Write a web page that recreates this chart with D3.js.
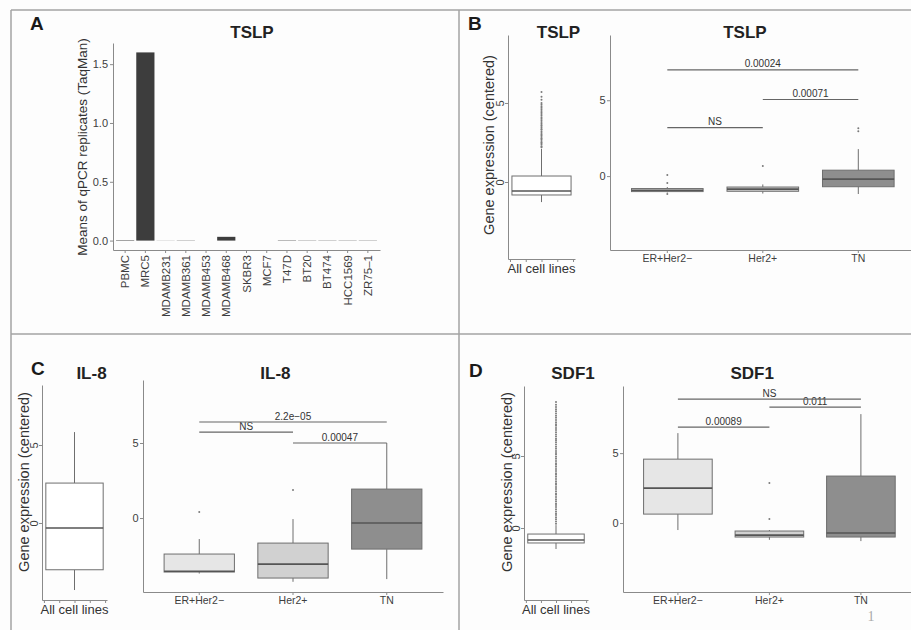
<!doctype html>
<meta charset="utf-8">
<style>
 body { margin: 0; background: #fdfdfd; }
 svg text { font-family: "Liberation Sans", Arial, sans-serif; }
 .tick text { fill: #3d3d3d; font-size: 11px; }
 .axis path, .axis line { stroke: #8a8a8a; }
 .title { font-weight: bold; font-size: 17px; fill: #222; }
 .letter { font-weight: bold; font-size: 19px; fill: #1a1a1a; }
 .ylab { font-size: 14.5px; fill: #333; }
 .sig { font-size: 10px; fill: #333; }
</style>
<svg width="911" height="630"></svg>
<script src="https://cdn.jsdelivr.net/npm/d3@7"></script>
<script>
 // Panel A: qPCR means
 var cellLines = ["PBMC", "MRC5", "MDAMB231", "MDAMB361", "MDAMB453", "MDAMB468",
                  "SKBR3", "MCF7", "T47D", "BT20", "BT474", "HCC1569", "ZR75\u20131"];
 var qpcrMeans = [0.004, 1.6, 0.001, 0.002, 0, 0.032, 0, 0, 0.003, 0.002, 0.002, 0.002, 0.002];

 // Boxplot stats: [lower whisker, q1, median, q3, upper whisker]
 var subtypes = ["ER+Her2\u2212", "Her2+", "TN"];
 var subtypeFill = ["#e6e6e6", "#d1d1d1", "#8e8e8e"];

 var tslpAll = [-1.27, -0.82, -0.57, 0.38, 2.1];
 var tslpAllOut = [2.2, 2.25, 2.35, 2.45, 2.5, 2.6, 2.7, 2.75, 2.85, 2.95, 3.0, 3.1, 3.2, 3.3,
                   3.35, 3.45, 3.55, 3.6, 3.7, 3.8, 3.9, 4.0, 4.1, 4.2, 4.3, 4.4, 4.5, 4.6,
                   4.7, 4.8, 4.9, 5.0, 5.2, 5.4, 5.7];
 var tslpSub = [[-1.08, -1.02, -0.93, -0.82, -0.72],
                [-1.15, -1.0, -0.86, -0.72, -0.55],
                [-1.18, -0.7, -0.2, 0.39, 1.78]];
 var tslpSubOut = [[0.07, -0.46, -1.18], [0.66], [2.96, 3.16]];
 var tslpSig = [[0, 1, 3.2, "NS"], [1, 2, 5.05, "0.00071"], [0, 2, 7.0, "0.00024"]];

 var il8All = [-4.3, -3.0, -0.32, 2.56, 5.83];
 var il8AllOut = [];
 var il8Sub = [[-3.7, -3.6, -3.55, -2.4, -1.4],
               [-4.25, -4.0, -3.07, -1.67, -0.07],
               [-4.07, -2.07, -0.33, 1.93, 5.0]];
 var il8SubOut = [[0.4], [1.87], []];
 var il8Sig = [[1, 2, 5.0, "0.00047"], [0, 1, 5.73, "NS"], [0, 2, 6.4, "2.2e\u221205"]];

 var sdf1All = [-1.46, -1.04, -0.83, -0.42, 0.2];
 var sdf1AllOut = [0.3, 0.45, 0.6, 0.75, 0.9, 1.0, 1.15, 1.3, 1.45, 1.6, 1.7, 1.85, 2.0, 2.15,
                   2.3, 2.4, 2.55, 2.7, 2.85, 3.0, 3.1, 3.25, 3.4, 3.55, 3.7, 3.8, 3.95, 4.1,
                   4.25, 4.4, 4.5, 4.65, 4.8, 4.95, 5.1, 5.2, 5.35, 5.5, 5.65, 5.8, 5.95, 6.1,
                   6.2, 6.35, 6.5, 6.65, 6.8, 6.95, 7.1, 7.2, 7.35, 7.5, 7.65, 7.8, 7.95, 8.1,
                   8.25, 8.4, 8.55, 8.75];
 var sdf1Sub = [[-0.5, 0.64, 2.5, 4.57, 6.43],
                [-1.2, -1.0, -0.86, -0.57, -0.5],
                [-1.29, -1.0, -0.71, 3.36, 7.79]];
 var sdf1SubOut = [[], [2.86, 0.29], []];
 var sdf1Sig = [[0, 1, 6.86, "0.00089"], [1, 2, 8.29, "0.011"], [0, 2, 8.86, "NS"]];

 var svg = d3.select("svg");

 // frame of the figure
 var frame = [[11, 10, 911, 10], [11, 10, 11, 630], [459, 10, 459, 630], [11, 334, 911, 334]];
 svg.selectAll(".frame").data(frame).enter().append("line")
    .attr("x1", d => d[0]).attr("y1", d => d[1]).attr("x2", d => d[2]).attr("y2", d => d[3])
    .attr("stroke", "#a3a3a3").attr("stroke-width", 1.5);

 function text(x, y, s, cls, anchor) {
   return svg.append("text").attr("x", x).attr("y", y).attr("class", cls)
             .attr("text-anchor", anchor || "middle").text(s);
 }
 function ylab(x, y, s, size) {
   svg.append("text").attr("class", "ylab").attr("text-anchor", "middle")
      .attr("transform", "translate(" + x + "," + y + ") rotate(-90)")
      .style("font-size", size ? size + "px" : null).text(s);
 }

 // ---- A ----
 var xA = d3.scaleBand().domain(cellLines).range([113, 380]).paddingInner(0.1).paddingOuter(0.15);
 var yA = d3.scaleLinear().domain([-0.08, 1.68]).range([250, 43]);
 svg.append("g").attr("class", "axis").attr("transform", "translate(113,0)")
    .call(d3.axisLeft(yA).tickValues([0, 0.5, 1, 1.5]).tickFormat(d3.format(".1f"))
            .tickSize(3).tickSizeOuter(0).tickPadding(2));
 var gxA = svg.append("g").attr("class", "axis").attr("transform", "translate(0,250)")
    .call(d3.axisBottom(xA).tickSize(3).tickSizeOuter(0));
 gxA.selectAll(".tick text").attr("text-anchor", "end").style("font-size", "11.5px")
    .attr("transform", "translate(4,5) rotate(-90)").attr("y", 0).attr("x", 0).attr("dy", 0);
 svg.selectAll(".bar").data(cellLines).enter().append("rect")
    .attr("x", d => xA(d)).attr("width", xA.bandwidth())
    .attr("y", (d, i) => yA(qpcrMeans[i])).attr("height", (d, i) => yA(0) - yA(qpcrMeans[i]))
    .attr("fill", "#3d3d3d");
 text(30, 30, "A", "letter", "start");
 text(252, 38, "TSLP", "title");
 ylab(87, 147, "Means of qPCR replicates (TaqMan)", 13.5);

 // ---- generic boxplot drawing ----
 function box(cx, half, y, st, out, fill) {
   var g = svg.append("g");
   g.append("line").attr("x1", cx).attr("x2", cx).attr("y1", y(st[0])).attr("y2", y(st[1]))
    .attr("stroke", "#6e6e6e");
   g.append("line").attr("x1", cx).attr("x2", cx).attr("y1", y(st[3])).attr("y2", y(st[4]))
    .attr("stroke", "#6e6e6e");
   g.append("rect").attr("x", cx - half).attr("width", 2 * half)
    .attr("y", y(st[3])).attr("height", y(st[1]) - y(st[3]))
    .attr("fill", fill).attr("stroke", "#6e6e6e").attr("stroke-width", 1);
   g.append("line").attr("x1", cx - half).attr("x2", cx + half)
    .attr("y1", y(st[2])).attr("y2", y(st[2])).attr("stroke", "#555").attr("stroke-width", 1.6);
   g.selectAll("circle").data(out).enter().append("circle")
    .attr("cx", cx).attr("cy", d => y(d)).attr("r", 1).attr("fill", "#7a7a7a");
 }

 function allPlot(x0, x1, yr, dom, st, out, title, ty) {
   var x = d3.scaleLinear().domain([-0.425, 0.425]).range([x0, x1]);
   var y = d3.scaleLinear().domain(dom).range(yr);
   var gy = svg.append("g").attr("class", "axis").attr("transform", "translate(" + x0 + ",0)")
      .call(d3.axisLeft(y).tickValues([0, 5]).tickSize(3).tickSizeOuter(0));
   gy.selectAll(".tick text").attr("text-anchor", "middle").attr("x", 0).attr("dy", 0)
      .attr("transform", "translate(-4,0) rotate(-90)");
   svg.append("g").attr("class", "axis").attr("transform", "translate(0," + yr[0] + ")")
      .call(d3.axisBottom(x).tickValues([-0.4, -0.2, 0, 0.2, 0.4]).tickFormat("")
              .tickSize(3).tickSizeOuter(0));
   box(x(0), x(0.375) - x(0), y, st, out, "#fff");
   text((x0 + x1) / 2, yr[0] + 14, "All cell lines", "", "middle")
     .style("font-size", "13px").attr("fill", "#333");
   text((x0 + x1) / 2 + 17, ty, title, "title");
 }

 function subPlot(x0, x1, yr, dom, stats, outs, sig, title, ty) {
   var x = d3.scaleBand().domain(subtypes).range([x0, x1]).paddingInner(0.25).paddingOuter(0.225);
   var y = d3.scaleLinear().domain(dom).range(yr);
   svg.append("g").attr("class", "axis").attr("transform", "translate(" + x0 + ",0)")
      .call(d3.axisLeft(y).tickValues([0, 5]).tickSize(3).tickSizeOuter(0).tickPadding(1.5));
   var gx = svg.append("g").attr("class", "axis").attr("transform", "translate(0," + yr[0] + ")")
      .call(d3.axisBottom(x).tickSize(3).tickSizeOuter(0).tickPadding(2));
   gx.selectAll(".tick text").style("font-size", "10.5px");
   subtypes.forEach(function (s, i) {
     box(x(s) + x.bandwidth() / 2, x.bandwidth() / 2, y, stats[i], outs[i], subtypeFill[i]);
   });
   sig.forEach(function (b) {
     var a = x(subtypes[b[0]]) + x.bandwidth() / 2, c = x(subtypes[b[1]]) + x.bandwidth() / 2;
     svg.append("line").attr("x1", a).attr("x2", c).attr("y1", y(b[2])).attr("y2", y(b[2]))
        .attr("stroke", "#666").attr("stroke-width", 1.2);
     text((a + c) / 2, y(b[2]) - 2.5, b[3], "sig");
   });
   text(x0 + 0.5 * (x(subtypes[1]) - x0) + (x(subtypes[1]) + x.bandwidth() / 2 - x0) / 2, ty, title, "title");
 }

 // ---- B ----
 text(468, 30, "B", "letter", "start");
 ylab(494, 145, "Gene expression (centered)");
 allPlot(508, 575, [259, 35], [-4.87, 9.3], tslpAll, tslpAllOut, "TSLP", 38);
 subPlot(610, 915.6, [250, 35], [-4.87, 9.3], tslpSub, tslpSubOut, tslpSig, "TSLP", 38);

 // ---- C ----
 text(31, 375, "C", "letter", "start");
 ylab(29, 482, "Gene expression (centered)");
 allPlot(42, 107, [600, 385], [-4.94, 8.85], il8All, il8AllOut, "IL-8", 379);
 subPlot(143, 443, [592, 380], [-4.93, 9.2], il8Sub, il8SubOut, il8Sig, "IL-8", 379);

 // ---- D ----
 text(469, 377, "D", "letter", "start");
 ylab(512, 482, "Gene expression (centered)");
 allPlot(524, 588, [600, 386], [-5.0, 9.86], sdf1All, sdf1AllOut, "SDF1", 379);
 subPlot(623, 915.8, [592, 386], [-4.93, 9.8], sdf1Sub, sdf1SubOut, sdf1Sig, "SDF1", 379);

 // page number
 svg.append("text").attr("x", 871).attr("y", 621).attr("text-anchor", "middle")
    .style("font-family", "Liberation Serif, serif").style("font-size", "14px")
    .attr("fill", "#aaa").text("1");
</script>
